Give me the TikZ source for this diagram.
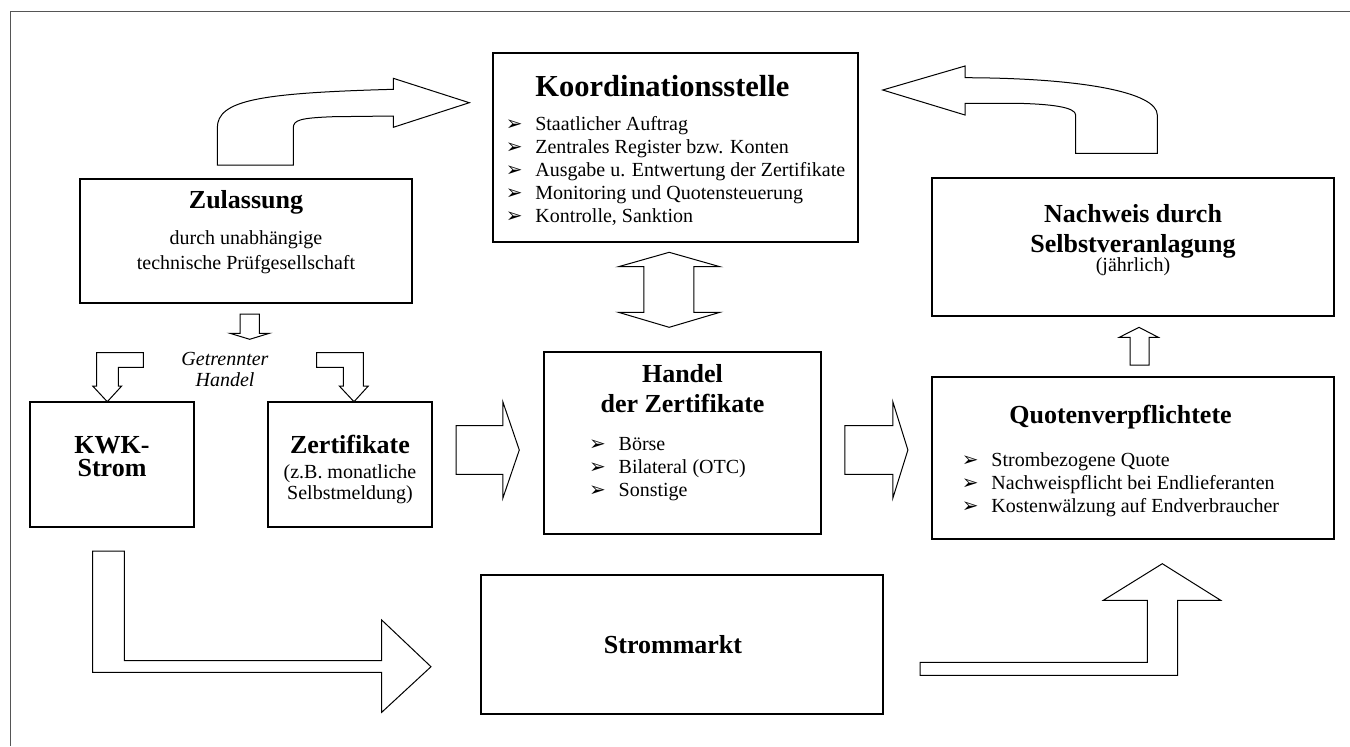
\documentclass[tikz,border=0pt]{standalone}
\usepackage{fontspec}
\setmainfont{Liberation Serif}
\newfontfamily\arrowfont{DejaVu Sans}
\usepackage{tikz}
\definecolor{framegray}{RGB}{85,85,85}
\newcommand{\headfont}{\fontsize{13}{15}\selectfont\bfseries}
\newcommand{\titlefont}{\fontsize{15.25}{17}\selectfont\bfseries}
\newcommand{\itm}{\makebox[14.75pt][l]{\arrowfont\fontsize{10}{10}\selectfont ➢}}

\begin{document}
\begin{tikzpicture}[x=0.5pt, y=-0.5pt,
  blk/.style={draw, line width=0.6pt, inner sep=0pt, align=center,
    font=\fontsize{10}{11.5}\selectfont},
  fat/.style={draw, line width=0.5pt, fill=white}]
\useasboundingbox (0,0) rectangle (1350,746);
\draw[framegray, line width=0.5pt] (10,746) -- (10,11) -- (1350,11);

\node[blk, minimum width=182.5pt, text height=84.85pt, text depth=9.65pt, align=left] (koord) at (675.5,147.5)
  {\hspace*{14.75pt}{\titlefont Koordinationsstelle}\\[5.5pt]
   \itm Staatlicher Auftrag\\
   \itm Zentrales Register bzw. Konten\\
   \itm Ausgabe u. Entwertung der Zertifikate\\
   \itm Monitoring und Quotensteuerung\\
   \itm Kontrolle, Sanktion};
\node[blk, minimum width=166pt, text height=45pt, text depth=17pt] (zul) at (246,241)
  {{\headfont Zulassung}\\[6.5pt] durch unabhängige\\[1pt] technische Prüfgesellschaft};
\node[blk, minimum width=201pt, text height=46.75pt, text depth=22.25pt] (nachw) at (1133,247)
  {{\headfont Nachweis durch}\\[3.5pt]{\headfont Selbstveranlagung}\\[-1.75pt](jährlich)};
\node[blk, minimum width=82pt, text height=37pt, text depth=25.5pt] (kwk) at (112,464.5)
  {{\headfont KWK-}\\{\headfont Strom}};
\node[blk, minimum width=82pt, text height=48.75pt, text depth=13.75pt] (zert) at (350,464.5)
  {{\headfont Zertifikate}\\[1.25pt](z.B. monatliche\\[-1pt]Selbstmeldung)};
\node[blk, minimum width=138.5pt, text height=49.35pt, text depth=41.65pt] (handel) at (682.5,443)
  {{\headfont Handel}\\[3.5pt]{\headfont der Zertifikate}\\[7.5pt]
   \hspace*{-15pt}\begin{tabular}[t]{@{}l@{}}\itm Börse\\ \itm Bilateral (OTC)\\ \itm Sonstige\end{tabular}};
\node[blk, minimum width=201pt, text height=44.5pt, text depth=36.5pt] (quote) at (1133,458)
  {\hspace*{-12.5pt}{\headfont Quotenverpflichtete}\\[10pt]
   \hspace*{-12.5pt}\begin{tabular}[t]{@{}l@{}}\itm Strombezogene Quote\\
   \itm Nachweispflicht bei Endlieferanten\\ \itm Kostenwälzung auf Endverbraucher\end{tabular}};
\node[blk, minimum width=201pt, minimum height=69.5pt] (markt) at (682,644.5)
  {\hspace*{-9pt}{\headfont Strommarkt}};
\node[font=\fontsize{10}{11.5}\selectfont\itshape, align=center, inner sep=0pt] (getr) at (225,369.5)
  {Getrennter\\[-0.65pt]Handel};

\draw[fat] (217.3,165) -- (217.3,128) .. controls (217.3,100) and (260,93) .. (393.3,89.3)
  -- (393.3,78.3) -- (469.3,102.7) -- (393.3,127.3) -- (393.3,116) -- (333,116.7)
  .. controls (300,118) and (293.3,120) .. (293.3,128) -- (293.3,165) -- cycle;
\draw[fat] (1157.3,153.3) -- (1157.3,115) .. controls (1157.3,92) and (1080,78) .. (965,77.7)
  -- (965,66) -- (882.7,90) -- (965,115) -- (965,103.3) -- (1016.7,103.3)
  .. controls (1050,104) and (1075.7,107) .. (1075.7,115) -- (1075.7,153.3) -- cycle;
\draw[fat] (240,314) -- (259.3,314) -- (259.3,333.3) -- (269.3,333.3) -- (249.7,339.3)
  -- (230,333.3) -- (240,333.3) -- cycle;
\draw[fat] (96.7,352.7) -- (143.3,352.7) -- (143.3,367.3) -- (118.3,367.3) -- (118.3,386)
  -- (121.7,386) -- (107.3,401.7) -- (92.7,386) -- (96.7,386) -- cycle;
\draw[fat] (316.7,352.7) -- (363.3,352.7) -- (363.3,386) -- (368.3,386) -- (354,401.7)
  -- (339.3,386) -- (343.3,386) -- (343.3,367.3) -- (316.7,367.3) -- cycle;
\draw[fat] (669.2,252.3) -- (719.9,266.7) -- (693.9,266.7) -- (693.9,312.3) -- (719.9,312.3)
  -- (669.2,327.3) -- (618.5,312.3) -- (643.8,312.3) -- (643.8,266.7) -- (618.5,266.7) -- cycle;
\draw[fat] (456,425.7) -- (502.8,425.7) -- (502.8,401.7) -- (519.3,450) -- (502.8,498.3)
  -- (502.8,474.3) -- (456,474.3) -- cycle;
\draw[fat] (844.8,425.7) -- (892.8,425.7) -- (892.8,401.7) -- (907.9,450) -- (892.8,498.3)
  -- (892.8,474.3) -- (844.8,474.3) -- cycle;
\draw[fat] (1130,365) -- (1130,337.3) -- (1119.3,337.3) -- (1139,327.3) -- (1158.3,337.3)
  -- (1149,337.3) -- (1149,365) -- cycle;
\draw[fat] (92.7,551) -- (124.3,551) -- (124.3,660.7) -- (381.7,660.7) -- (381.7,620)
  -- (431,666.7) -- (381.7,712.3) -- (381.7,672.3) -- (92.7,672.3) -- cycle;
\draw[fat] (920,662.3) -- (1147.3,662.3) -- (1147.3,600.3) -- (1103.3,600.3) -- (1162.3,563.7)
  -- (1220.7,600.3) -- (1177.7,600.3) -- (1177.7,675.3) -- (920,675.3) -- cycle;
\end{tikzpicture}
\end{document}
